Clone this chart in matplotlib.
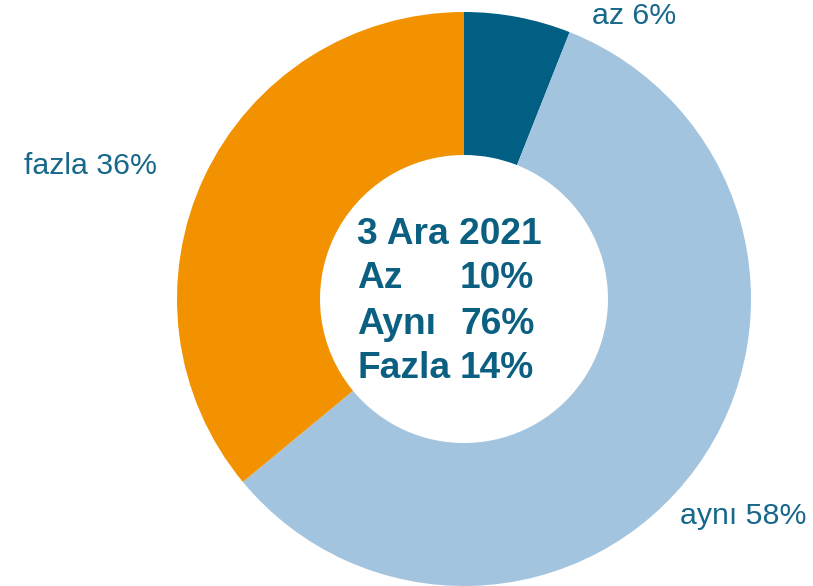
import matplotlib.pyplot as plt

# === Data ===
categories = ["az", "aynı", "fazla"]
values = [6, 58, 36]
colors = ["#005f83", "#a3c4de", "#f39200"]

center_title = "3 Ara 2021"
center_names = ["Az", "Aynı", "Fazla"]
center_values = [10, 76, 14]

plt.rcParams["font.family"] = ["Liberation Sans", "DejaVu Sans"]
text_color = "#17688b"
center_color = "#0b5f80"

fig = plt.figure(figsize=(8.13, 5.86), dpi=100)
ax = fig.add_axes([0, 0, 1, 1])

# Donut
ax.pie(values, colors=colors, startangle=90, counterclock=False,
       center=(464, 287), radius=287, frame=True,
       wedgeprops=dict(width=143, edgecolor="none"))

# Outside labels
label_pos = [(634, 570), (743, 70), (90, 420)]
for cat, val, (x, y) in zip(categories, values, label_pos):
    ax.text(x, y, f"{cat} {val}%", ha="center", va="center",
            fontsize=21.8, color=text_color)

# Center text
ax.text(357, 352, center_title, ha="left", va="center",
        fontsize=26.7, fontweight="bold", color=center_color)
for i, (name, val) in enumerate(zip(center_names, center_values)):
    y = 307 - i * 45
    ax.text(357, y, name, ha="left", va="center",
            fontsize=26.7, fontweight="bold", color=center_color)
    ax.text(460, y, f"{val}%", ha="left", va="center",
            fontsize=26.7, fontweight="bold", color=center_color)

ax.set_xlim(0, 813)
ax.set_ylim(0, 586)
ax.set_aspect("equal")
ax.axis("off")

fig.savefig("out.png", dpi=100)
plt.close(fig)
